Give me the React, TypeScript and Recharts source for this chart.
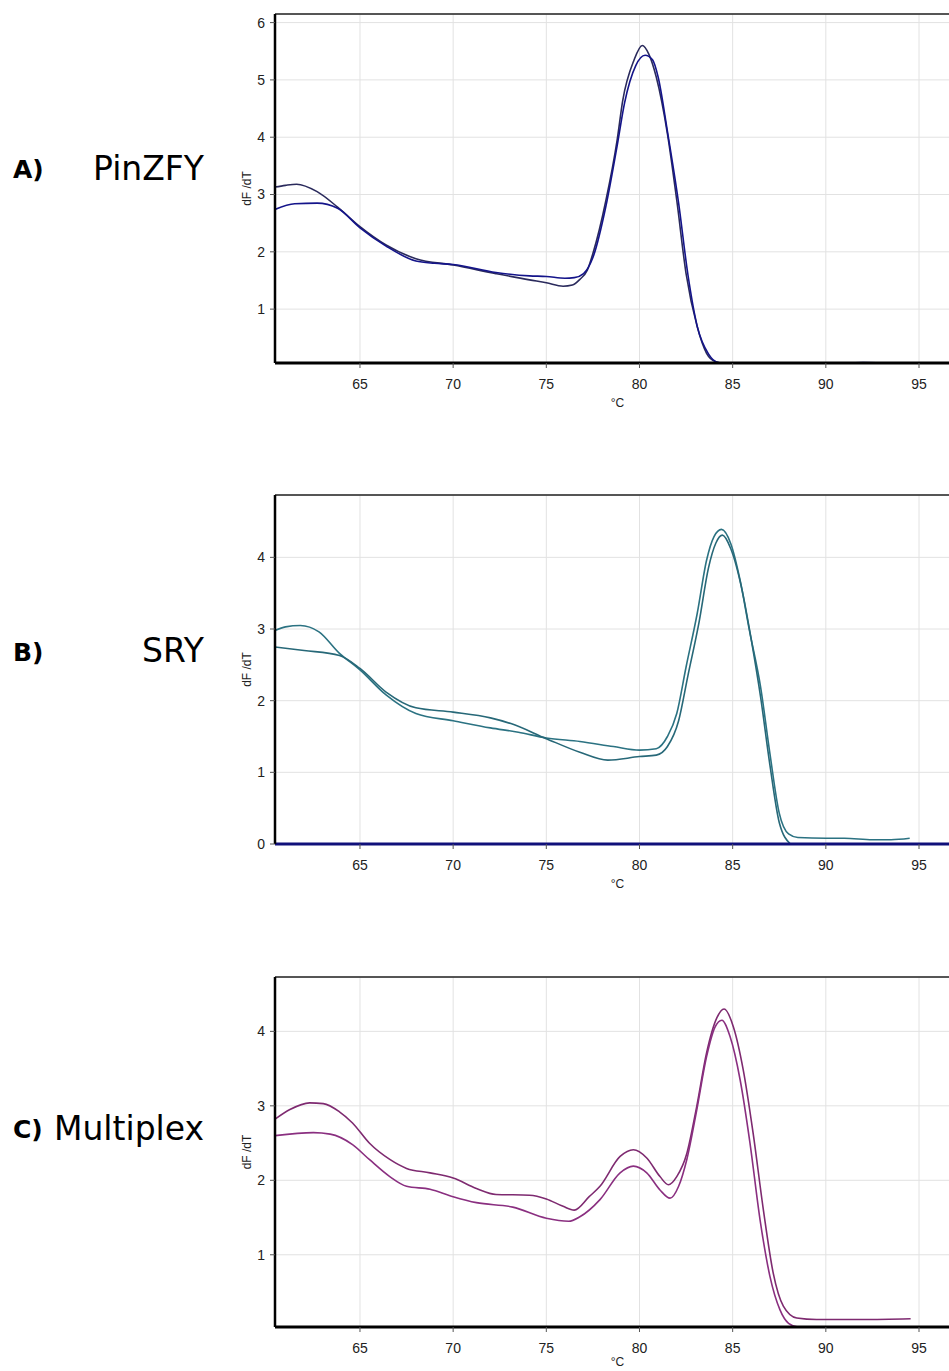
import { LineChart, Line, XAxis, YAxis, CartesianGrid, ReferenceLine } from 'recharts';

// Melting curves (dF/dT vs temperature) for three assays

const tempTicks = [65, 70, 75, 80, 85, 90, 95];
const tempDomain: [number, number] = [60.44, 97.2];

// A) PinZFY
const pinzfyTempsA = [60.44, 61.0, 61.6, 62.7, 63.8, 65.0, 66.4, 68.0, 70.0, 72.3, 74.1, 75.0, 75.9, 76.4, 76.8, 77.2, 77.5, 78.2, 78.8, 79.1, 79.7, 80.15, 80.5, 80.9, 81.5, 82.0, 82.5, 83.1, 83.6, 84.1, 84.6, 86, 88, 90, 92, 94.5];
const pinzfyValuesA = [3.13, 3.16, 3.18, 3.05, 2.78, 2.44, 2.12, 1.88, 1.77, 1.62, 1.51, 1.46, 1.40, 1.42, 1.52, 1.68, 1.97, 2.90, 3.95, 4.64, 5.34, 5.60, 5.45, 5.05, 4.06, 2.90, 1.62, 0.69, 0.23, 0.08, 0.05, 0.05, 0.05, 0.05, 0.06, 0.05];
const pinzfyTempsB = [60.44, 61.5, 62.7, 63.8, 65.0, 66.4, 68.0, 69.0, 70.0, 72.3, 74.1, 75.0, 76.0, 76.5, 77.0, 77.5, 78.2, 78.8, 79.2, 79.8, 80.3, 80.7, 81.0, 81.5, 82.1, 82.6, 83.1, 83.7, 84.2, 84.7, 86, 88, 90, 92, 94.5];
const pinzfyValuesB = [2.74, 2.84, 2.85, 2.76, 2.42, 2.10, 1.84, 1.80, 1.78, 1.64, 1.58, 1.57, 1.54, 1.55, 1.62, 1.90, 2.80, 3.85, 4.60, 5.25, 5.43, 5.35, 5.05, 4.10, 2.85, 1.60, 0.70, 0.22, 0.07, 0.05, 0.05, 0.05, 0.05, 0.07, 0.05];

// B) SRY
const sryTempsA = [60.44, 61.0, 61.8, 62.8, 63.9, 65.0, 66.4, 68.0, 70.0, 72.0, 73.5, 75.0, 76.8, 78.6, 80.0, 80.9, 81.5, 82.0, 82.5, 83.1, 83.6, 84.0, 84.4, 84.9, 85.4, 85.9, 86.5, 87.0, 87.5, 88.0, 88.5, 90, 91, 92.5, 93.5, 94.5];
const sryValuesA = [2.98, 3.03, 3.05, 2.96, 2.66, 2.43, 2.08, 1.82, 1.72, 1.62, 1.56, 1.48, 1.43, 1.36, 1.31, 1.33, 1.50, 1.82, 2.47, 3.22, 3.96, 4.29, 4.39, 4.19, 3.68, 2.98, 2.19, 1.26, 0.43, 0.14, 0.09, 0.08, 0.08, 0.06, 0.06, 0.08];
const sryTempsB = [60.44, 62.0, 63.9, 65.0, 66.4, 68.0, 70.0, 72.0, 73.1, 75.0, 76.8, 78.3, 80.0, 80.9, 81.5, 82.1, 82.6, 83.2, 83.7, 84.1, 84.45, 84.9, 85.5, 86.0, 86.5, 87.0, 87.5, 88.1];
const sryValuesB = [2.75, 2.70, 2.63, 2.45, 2.12, 1.90, 1.84, 1.76, 1.68, 1.47, 1.28, 1.17, 1.22, 1.24, 1.36, 1.72, 2.35, 3.10, 3.85, 4.20, 4.31, 4.12, 3.55, 2.85, 2.05, 1.10, 0.30, 0.0];

// C) Multiplex
const multiTempsA = [60.44, 61.24, 62.3, 63.03, 63.9, 64.6, 65.5, 66.6, 67.5, 68.76, 70.0, 71.25, 72.3, 74.1, 75.0, 75.9, 76.5, 77.3, 77.88, 78.96, 79.67, 80.39, 81.1, 81.55, 82.0, 82.54, 83.07, 83.6, 84.15, 84.54, 85.04, 85.57, 86.1, 86.65, 87.18, 87.72, 88.44, 89.5, 92, 94.55];
const multiValuesA = [2.82, 2.95, 3.04, 3.03, 2.92, 2.77, 2.50, 2.28, 2.16, 2.10, 2.03, 1.89, 1.81, 1.80, 1.75, 1.65, 1.60, 1.78, 1.92, 2.32, 2.41, 2.30, 2.05, 1.94, 2.05, 2.36, 2.99, 3.71, 4.18, 4.30, 4.06, 3.48, 2.63, 1.60, 0.75, 0.31, 0.15, 0.13, 0.13, 0.14];
const multiTempsB = [60.44, 62.5, 63.4, 64.6, 65.5, 66.6, 67.5, 68.76, 70.0, 71.25, 73.2, 75.0, 76.2, 76.8, 77.88, 78.96, 79.67, 80.39, 81.1, 81.64, 82.1, 82.54, 83.07, 83.6, 84.06, 84.42, 84.86, 85.4, 85.93, 86.47, 87.0, 87.54, 88.0, 88.5];
const multiValuesB = [2.60, 2.64, 2.62, 2.48, 2.28, 2.05, 1.92, 1.88, 1.78, 1.70, 1.64, 1.49, 1.45, 1.51, 1.74, 2.10, 2.19, 2.10, 1.87, 1.76, 1.92, 2.28, 2.94, 3.66, 4.06, 4.15, 3.93, 3.35, 2.50, 1.47, 0.71, 0.26, 0.08, 0.03];

const toPoints = (temps: number[], values: number[]) => temps.map((t, i) => ({ t, v: values[i] }));

interface PanelProps {
  top: number;
  plotTop: number;
  plotBottom: number;
  yDomain: [number, number];
  yTicks: number[];
  colors: [string, string];
  curves: Array<{ t: number; v: number }[]>;
  baseColor?: string;
  unitOffset?: number;
}

const axisFont = '"Liberation Sans", Arial, sans-serif';

function MeltPanel({ top, plotTop, plotBottom, yDomain, yTicks, colors, curves, baseColor = '#000', unitOffset = 10 }: PanelProps) {
  const axisHeight = 54;
  const height = plotBottom - top + axisHeight;
  const tickStyle = { fontSize: 14, fill: '#222', fontFamily: axisFont };
  return (
    <div style={{ position: 'absolute', left: 0, top }}>
      <LineChart width={965} height={height} margin={{ top: plotTop - top, right: 5, bottom: 0, left: 235 }}>
        <CartesianGrid stroke="#e2e2e2" strokeWidth={1} />
        <XAxis
          type="number"
          dataKey="t"
          domain={tempDomain}
          ticks={tempTicks}
          allowDataOverflow
          height={axisHeight}
          tickSize={5}
          tickMargin={11}
          tick={tickStyle}
          tickLine={{ stroke: '#555' }}
          axisLine={{ stroke: baseColor, strokeWidth: 3 }}
          label={{ value: '°C', position: 'insideBottom', offset: unitOffset, style: { fontSize: 12, fill: '#222', fontFamily: axisFont } }}
        />
        <YAxis
          type="number"
          domain={yDomain}
          ticks={yTicks}
          allowDataOverflow
          width={40}
          tickSize={5}
          tickMargin={5}
          tick={tickStyle}
          tickLine={{ stroke: '#555' }}
          axisLine={{ stroke: '#000', strokeWidth: 2.5 }}
          label={{
            value: 'dF /dT',
            angle: -90,
            position: 'insideLeft',
            offset: 12,
            style: { textAnchor: 'middle', fontSize: 12, fill: '#222', fontFamily: axisFont },
          }}
        />
        <ReferenceLine y={yDomain[1]} stroke="#222" strokeWidth={1.5} />
        {curves.map((pts, i) => (
          <Line
            key={i}
            data={pts}
            dataKey="v"
            type="monotone"
            stroke={colors[i]}
            strokeWidth={1.6}
            dot={false}
            isAnimationActive={false}
          />
        ))}
      </LineChart>
    </div>
  );
}

const labelFont = '"DejaVu Sans", Verdana, sans-serif';

export default function App() {
  return (
    <div style={{ position: 'fixed', left: 0, top: 0, width: 949, height: 1371, overflow: 'hidden', background: '#fff' }}>
      <MeltPanel
        top={0}
        plotTop={14}
        plotBottom={363}
        yDomain={[0.06, 6.15]}
        yTicks={[1, 2, 3, 4, 5, 6]}
        colors={['#2a2a5c', '#14148a']}
        curves={[toPoints(pinzfyTempsA, pinzfyValuesA), toPoints(pinzfyTempsB, pinzfyValuesB)]}
      />
      <MeltPanel
        top={480}
        plotTop={495}
        plotBottom={844}
        yDomain={[0, 4.87]}
        yTicks={[0, 1, 2, 3, 4]}
        colors={['#2b7282', '#276878']}
        baseColor="#10107a"
        curves={[toPoints(sryTempsA, sryValuesA), toPoints(sryTempsB, sryValuesB)]}
      />
      <MeltPanel
        top={960}
        plotTop={977}
        plotBottom={1327}
        yDomain={[0.03, 4.73]}
        yTicks={[1, 2, 3, 4]}
        colors={['#7e2a70', '#8a2f80']}
        unitOffset={15}
        curves={[toPoints(multiTempsA, multiValuesA), toPoints(multiTempsB, multiValuesB)]}
      />
      <svg width={949} height={1371} style={{ position: 'absolute', left: 0, top: 0, pointerEvents: 'none' }}>
        <g fill="#000" fontFamily={labelFont}>
          <text x={13} y={178} fontSize={25} fontWeight="bold">A)</text>
          <text x={204} y={180} fontSize={33} textAnchor="end">PinZFY</text>
          <text x={13} y={661} fontSize={25} fontWeight="bold">B)</text>
          <text x={204} y={662} fontSize={33} textAnchor="end">SRY</text>
          <text x={13} y={1138} fontSize={25} fontWeight="bold">C)</text>
          <text x={204} y={1140} fontSize={33} textAnchor="end">Multiplex</text>
        </g>
      </svg>
    </div>
  );
}
